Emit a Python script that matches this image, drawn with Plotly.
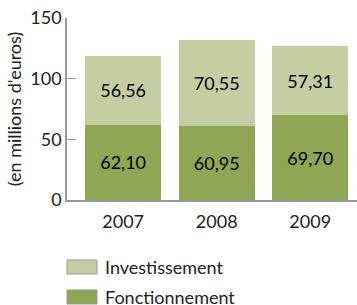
import plotly.graph_objects as go

years = ["2007", "2008", "2009"]
fonctionnement = [62.10, 60.95, 69.70]
investissement = [56.56, 70.55, 57.31]
y_ticks = [0, 50, 100, 150]

C_FONC = "#8fa654"
C_INV = "#c5cea3"
FONT = "Lato"

fig = go.Figure()
fig.add_trace(go.Bar(x=years, y=fonctionnement, name="Fonctionnement",
                     marker=dict(color=C_FONC, line=dict(width=0)),
                     texttemplate="%{y:.2f}", textposition="inside",
                     insidetextanchor="middle",
                     textfont=dict(color="black", size=18, family=FONT)))
fig.add_trace(go.Bar(x=years, y=investissement, name="Investissement",
                     marker=dict(color=C_INV, line=dict(width=0)),
                     texttemplate="%{y:.2f}", textposition="inside",
                     insidetextanchor="middle",
                     textfont=dict(color="black", size=18, family=FONT)))

fig.update_layout(
    width=357, height=305,
    barmode="stack", bargap=0.19,
    separators=", ",
    margin=dict(l=67, r=0, t=18, b=105),
    plot_bgcolor="white", paper_bgcolor="white",
    showlegend=False,
    font=dict(family=FONT, color="#222", size=17),
    uniformtext=dict(mode="show", minsize=18),
)
fig.update_xaxes(range=[-0.6, 2.5], showline=True, linecolor="#999", linewidth=1.5,
                 ticks="", showgrid=False, tickfont=dict(size=18, color="#222"),
                 ticklabelstandoff=5)
fig.update_yaxes(range=[0, 150], tickvals=y_ticks, showline=True, linecolor="#999",
                 linewidth=1.5, ticks="inside", ticklen=9, tickcolor="#999",
                 showgrid=False, zeroline=False, tickfont=dict(size=18, color="#222"),
                 title=dict(text="(en millions d'euros)", font=dict(size=18, color="#222"),
                            standoff=4))

# legend drawn manually
legend_items = [("Investissement", C_INV, 0.0), ("Fonctionnement", C_FONC, 30.0)]
for label, col, dy in legend_items:
    y0 = 260 + dy
    fig.add_shape(type="rect", xref="paper", yref="paper",
                  x0=0, x1=30 / 290, y0=(200 - y0 - 14) / 182, y1=(200 - y0) / 182,
                  fillcolor=col, line=dict(color="#999", width=1))
    fig.add_annotation(text=label, xref="paper", yref="paper",
                       x=36 / 290, y=(200 - y0 - 7) / 182, xanchor="left", yanchor="middle",
                       showarrow=False, font=dict(size=18, color="#222", family=FONT))

fig.write_html("out.html", config={"displayModeBar": False},
               post_script="document.body.style.margin='0';")
